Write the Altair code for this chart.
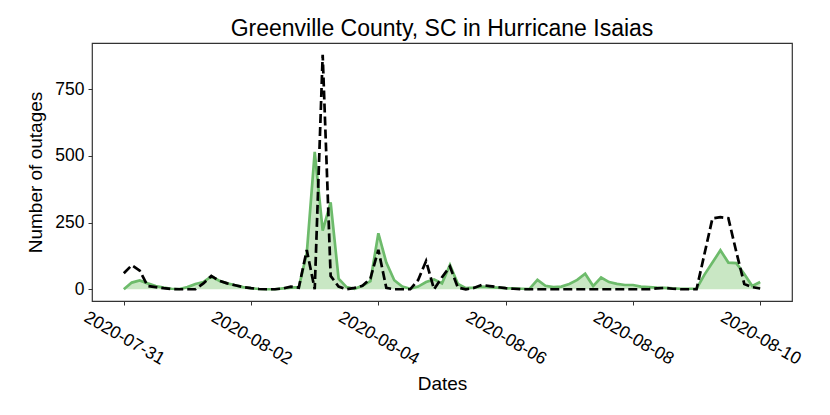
import altair as alt
import pandas as pd
from datetime import datetime, timedelta

# 3-hourly observations from 2020-07-31 00:00 to 2020-08-10 00:00
start = datetime(2020, 7, 31, 0, 0)
step_hours = 3

green_vals = [
    0, 25, 33, 22, 12, 6, 2, 1, 8, 20,
    27, 48, 32, 22, 15, 8, 4, 1, 0, 0,
    3, 6, 8, 135, 515, 220, 326, 40, 8, 2,
    13, 30, 210, 100, 34, 10, 2, 10, 27, 37,
    22, 91, 20, 4, 6, 10, 8, 6, 4, 3,
    2, 1, 35, 13, 8, 10, 20, 35, 58, 12,
    44, 27, 20, 16, 16, 10, 8, 6, 5, 3,
    2, 2, 2, 55, 100, 146, 100, 98, 57, 12,
    27,
]

black_vals = [
    60, 90, 70, 12, 8, 4, 1, 0, 0, 0,
    22, 50, 32, 22, 15, 8, 4, 1, 0, 0,
    3, 10, 6, 147, 0, 879, 50, 10, 0, 5,
    13, 40, 148, 5, 0, 0, 0, 35, 106, 0,
    45, 85, 6, 0, 5, 16, 12, 8, 4, 2,
    0, 0, 0, 0, 0, 0, 0, 0, 0, 0,
    0, 0, 0, 0, 0, 0, 0, 3, 5, 2,
    0, 0, 0, 133, 266, 270, 266, 140, 20, 8,
    3,
]

tick_dates = ["2020-07-31", "2020-08-02", "2020-08-04", "2020-08-06", "2020-08-08", "2020-08-10"]
y_ticks = [0, 250, 500, 750]

times = [(start + timedelta(hours=step_hours * i)).strftime("%Y-%m-%dT%H:%M:%S") for i in range(len(green_vals))]
df = pd.DataFrame({"time": times, "green": green_vals, "black": black_vals})

FONT = "Liberation Sans"

x_enc = alt.X(
    "time:T",
    scale=alt.Scale(domain=[alt.DateTime(year=2020, month=7, date=30, hours=12),
                            alt.DateTime(year=2020, month=8, date=10, hours=12)]),
    axis=alt.Axis(
        title="Dates",
        values=[alt.DateTime(year=int(d[:4]), month=int(d[5:7]), date=int(d[8:10])) for d in tick_dates],
        format="%Y-%m-%d",
        labelAngle=30,
        labelAlign="center",
        labelBaseline="middle",
        labelPadding=33,
        labelFlush=False,
        labelOverlap=False,
        titleBaseline="alphabetic",
        titleY=88,
    ),
)

y_scale = alt.Scale(domain=[-44, 923], nice=False, zero=False)
y_axis = alt.Axis(title="Number of outages", values=y_ticks, labelPadding=4, titlePadding=9)

base = alt.Chart(df)

area = base.mark_area(color="#c9e7c4", opacity=1).encode(
    x=x_enc,
    y=alt.Y("green:Q", scale=y_scale, axis=y_axis),
    y2=alt.datum(0),
)
gline = base.mark_line(color="#6dbb6b", strokeWidth=2.7).encode(
    x=x_enc, y=alt.Y("green:Q", scale=y_scale, axis=y_axis)
)
bline = base.mark_line(color="#000000", strokeWidth=2.7, strokeDash=[9, 4]).encode(
    x=x_enc, y=alt.Y("black:Q", scale=y_scale, axis=y_axis)
)

chart = (
    alt.layer(area, gline, bline)
    .properties(
        width=700,
        height=258,
        title=alt.TitleParams(
            "Greenville County, SC in Hurricane Isaias",
            fontSize=23,
            font=FONT,
            fontWeight="normal",
            color="#000000",
            anchor="middle",
            baseline="alphabetic",
            offset=6,
            dy=22,
        ),
        autosize=alt.AutoSizeParams(type="none"),
        padding={"left": 84, "top": 35, "right": 30, "bottom": 100},
    )
    .configure_view(stroke="#333333", strokeWidth=1.2)
    .configure_axis(
        grid=False,
        domain=False,
        tickColor="#333333",
        tickSize=4,
        tickWidth=1,
        labelFont=FONT,
        labelFontSize=17.5,
        labelColor="#000000",
        titleFont=FONT,
        titleFontSize=19,
        titleFontWeight="normal",
        titleColor="#000000",
    )
)

chart.save("out.html", embed_options={"renderer": "svg", "actions": False})
